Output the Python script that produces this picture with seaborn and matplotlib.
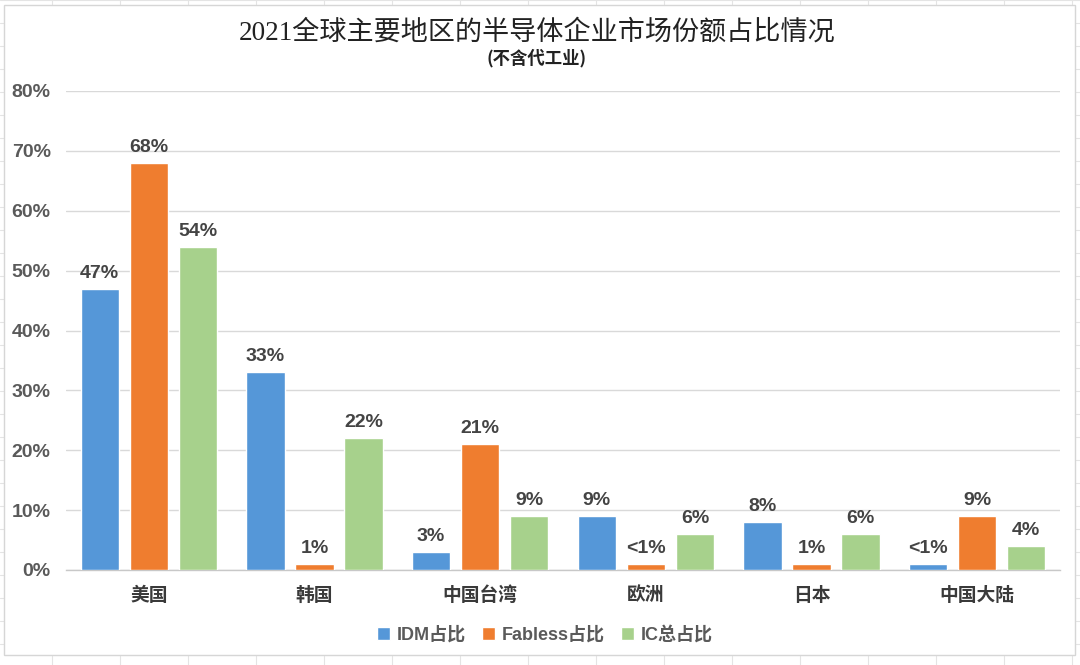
import matplotlib
matplotlib.use("Agg")
import matplotlib.pyplot as plt
from matplotlib.lines import Line2D
from matplotlib.patches import Rectangle
import seaborn as sns
import pandas as pd

categories = ["美国", "韩国", "中国台湾", "欧洲", "日本", "中国大陆"]
series_names = ["IDM占比", "Fabless占比", "IC总占比"]
idm = [47, 33, 3, 9, 8, 1]
fabless = [68, 1, 21, 1, 1, 9]
ic_total = [54, 22, 9, 6, 6, 4]
idm_labels = ["47%", "33%", "3%", "9%", "8%", "<1%"]
fabless_labels = ["68%", "1%", "21%", "<1%", "1%", "9%"]
ic_labels = ["54%", "22%", "9%", "6%", "6%", "4%"]
yticks = [0, 10, 20, 30, 40, 50, 60, 70, 80]
ytick_labels = ["0%", "10%", "20%", "30%", "40%", "50%", "60%", "70%", "80%"]
title = "2021全球主要地区的半导体企业市场份额占比情况"
subtitle = "(不含代工业)"
colors = ["#5597d8", "#ef7d2f", "#a7d18c"]

sns.set_theme(style="white")
plt.rcParams["font.family"] = ["Liberation Sans", "Noto Sans CJK SC", "DejaVu Sans"]

rows = []
for name, vals in zip(series_names, [idm, fabless, ic_total]):
    for c, v in zip(categories, vals):
        rows.append({"region": c, "series": name, "value": v})
df = pd.DataFrame(rows)

W, H = 1080, 665
fig = plt.figure(figsize=(W / 100, H / 100), dpi=100)
fig.patch.set_facecolor("white")

# spreadsheet-like background grid outside the chart frame
grid_c = "#e4e4e4"
for x in range(52, W, 68):
    fig.add_artist(Line2D([x / W, x / W], [0, 1], color=grid_c, lw=0.8, transform=fig.transFigure, zorder=-5))
for y in range(0, H, 23):
    fig.add_artist(Line2D([0, 1], [1 - y / H, 1 - y / H], color=grid_c, lw=0.8, transform=fig.transFigure, zorder=-5))
fig.add_artist(Rectangle((4 / W, 1 - 655 / H), 1071 / W, 650 / H, transform=fig.transFigure,
                         facecolor="white", edgecolor="#d6d6d6", lw=1.0, zorder=-4))

ax = fig.add_axes([66 / W, 1 - 570 / H, (1060 - 66) / W, (570 - 91) / H])
ax.set_facecolor("none")
sns.barplot(data=df, x="region", y="value", hue="series", order=categories, hue_order=series_names,
            palette=colors, width=0.89, gap=0.22, ax=ax, legend=True, saturation=1, zorder=3)

ax.set_ylim(0, 80)
ax.set_xlim(-0.5, len(categories) - 0.5)
ax.set_yticks(yticks)
ax.set_yticklabels(ytick_labels, fontsize=14, fontweight="bold", color="#5a5a5a")
ax.yaxis.grid(True, color="#d9d9d9", lw=1.0, zorder=0)
ax.set_axisbelow(True)
ax.tick_params(axis="y", length=0, pad=11)
ax.tick_params(axis="x", length=0, pad=12)
for lbl in ax.get_xticklabels():
    lbl.set_fontsize(13.5)
    lbl.set_color("#3a3a3a")
    lbl.set_fontweight("bold")
ax.set_xticks([i - 0.5 for i in range(len(categories) + 1)], minor=True)
ax.tick_params(axis="x", which="minor", length=6, width=1, color="#c8c8c8", direction="out")
ax.set_xlabel("")
ax.set_ylabel("")
for s in ["top", "right", "left"]:
    ax.spines[s].set_visible(False)
ax.spines["bottom"].set_color("#c8c8c8")
ax.spines["bottom"].set_linewidth(1.0)

all_labels = [idm_labels, fabless_labels, ic_labels]
for cont, labs in zip(ax.containers, all_labels):
    ax.bar_label(cont, labels=labs, padding=5, fontsize=14, fontweight="bold", color="#444444")

handles, _ = ax.get_legend_handles_labels()
ax.legend(handles, series_names, loc="center", bbox_to_anchor=(545 / W, 1 - 635 / H),
          bbox_transform=fig.transFigure, ncol=3, frameon=False, handlelength=0.7, handleheight=0.7,
          handletextpad=0.4, columnspacing=0.9, prop={"size": 13, "weight": "bold"}, labelcolor="#5a5a5a")

fig.text(537 / W, 1 - 33 / H, title, ha="center", va="center", fontsize=19.5, color="#222222",
         family=["Liberation Serif", "Noto Sans CJK SC"])
fig.text(537 / W, 1 - 58 / H, subtitle, ha="center", va="center", fontsize=12.5, fontweight="bold",
         color="#222222", family=["Noto Sans CJK SC", "DejaVu Sans"])

fig.savefig("out.png", dpi=100, facecolor="white")
